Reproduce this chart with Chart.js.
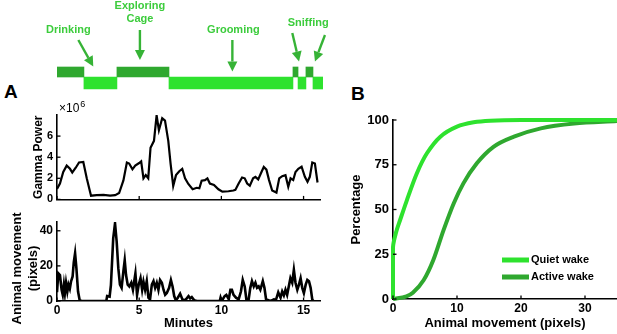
<!DOCTYPE html>
<html lang="en">
<head>
<meta charset="UTF-8">
<title>Behaviour, gamma power and animal movement</title>
<script src="https://cdn.jsdelivr.net/npm/chart.js@4.4.0/dist/chart.umd.min.js"></script>
<style>
  body { margin: 0; background: #fff; }
  #wrap { position: relative; width: 617px; height: 334px; overflow: hidden; font-family: 'Liberation Sans', Arial, sans-serif; }
  canvas { position: absolute; }
  .panel { position: absolute; font-weight: bold; font-size: 19px; line-height: 1; }
</style>
</head>
<body>
<div id="wrap">
  <div class="panel" style="left:4px;top:82px">A</div>
  <div class="panel" style="left:351px;top:84px">B</div>
  <canvas id="etho" width="340" height="100" style="left:0;top:0"></canvas>
  <canvas id="gamma" width="340" height="115" style="left:0;top:95px"></canvas>
  <canvas id="move" width="340" height="124" style="left:0;top:210px"></canvas>
  <canvas id="cdf" width="277" height="254" style="left:340px;top:80px"></canvas>
</div>
<script>
// ---- data ----
const minuteTicks = [0, 5, 10, 15];
const gammaTicks = [0, 2, 4, 6];
const moveTicks = [0, 20, 40];
const cdfXTicks = [0, 10, 20, 30];
const cdfYTicks = [0, 25, 50, 75, 100];

// ethogram, [start, end] in minutes
const darkBouts = [[0, 1.64], [3.65, 6.82], [14.37, 14.68], [15.16, 15.59]];
const lightBouts = [[1.64, 3.65], [6.82, 14.37], [14.68, 15.16], [15.59, 16.2]];
const behaviours = ['Drinking', ['Exploring', 'Cage'], 'Grooming', 'Sniffing'];
const behaviourAt = [[0.69, 7.0], [5.05, 8.75], [10.74, 7.0], [15.3, 7.75]];
const arrowFrom = [[1.3, 6.0], [5.05, 7.0], [10.68, 6.0], [14.33, 6.7], [16.32, 6.5]];
const arrowTo = [[2.21, 3.35], [5.05, 4.0], [10.68, 2.85], [14.74, 3.85], [15.71, 3.85]];

// gamma power (x10^6)
const gammaTime = [0, 0.18, 0.38, 0.59, 0.79, 0.93, 1.14, 1.34, 1.6, 1.81, 2.07, 2.42, 2.83, 3.23, 3.54, 3.78,
  4.04, 4.25, 4.39, 4.59, 4.76, 5.0, 5.12, 5.26, 5.4, 5.55, 5.69, 5.9, 6.06, 6.2, 6.4, 6.57, 6.77, 6.91,
  7.07, 7.24, 7.44, 7.62, 7.79, 7.99, 8.25, 8.5, 8.66, 8.8, 9.0, 9.15, 9.3, 9.55, 9.82, 10.06, 10.43,
  10.73, 10.85, 11.05, 11.26, 11.42, 11.57, 11.73, 11.93, 12.07, 12.24, 12.44, 12.58, 12.74, 12.9, 13.09,
  13.35, 13.52, 13.7, 13.9, 14.07, 14.21, 14.37, 14.51, 14.68, 14.88, 15.08, 15.24, 15.38, 15.53, 15.69, 15.85];
const gammaPower = [1.0, 1.5, 2.6, 3.2, 2.9, 2.55, 3.0, 3.5, 3.55, 2.0, 0.35, 0.4, 0.43, 0.35, 0.4, 0.6,
  1.8, 3.5, 3.4, 2.85, 3.2, 3.45, 3.6, 2.0, 2.3, 2.0, 4.9, 5.55, 7.97, 6.55, 7.7, 7.47, 5.55, 3.4,
  1.27, 2.3, 2.67, 2.9, 2.0, 1.46, 0.96, 1.1, 1.05, 1.77, 1.83, 2.0, 1.5, 1.37, 0.96, 0.74, 0.77,
  0.84, 0.9, 1.5, 2.07, 2.0, 1.5, 1.3, 2.0, 2.14, 1.9, 2.6, 3.07, 2.82, 1.83, 0.84,
  0.65, 2.0, 2.2, 2.3, 1.2, 2.0, 1.83, 2.6, 2.9, 3.1, 2.14, 1.67, 2.14, 3.5, 3.4, 1.6];

// animal movement (pixels)
const moveTime = [0, 0.08, 0.18, 0.28, 0.35, 0.42, 0.48, 0.55, 0.63, 0.7, 0.78, 0.85, 0.95, 1.02, 1.1, 1.18,
  1.28, 1.38, 1.5, 3.0, 3.05, 3.2, 3.28, 3.42, 3.53, 3.63, 3.73, 3.83, 3.93, 4.04, 4.12, 4.2, 4.3, 4.4,
  4.52, 4.62, 4.77, 4.87, 4.97, 5.08, 5.18, 5.26, 5.36, 5.46, 5.56, 5.66, 5.77, 5.87, 5.97, 6.07, 6.17,
  6.27, 6.38, 6.48, 6.58, 6.68, 6.82, 6.93, 7.03, 7.13, 7.23, 7.35, 7.49, 7.63, 7.8, 8.0, 8.1, 8.2, 8.35,
  8.5, 9.9, 9.95, 10.02, 10.2, 10.3, 10.45, 10.55, 10.64, 10.74, 10.89, 11.05, 11.19, 11.3, 11.42, 11.52,
  11.66, 11.76, 11.86, 11.97, 12.07, 12.17, 12.27, 12.37, 12.52, 12.62, 12.72, 12.87, 13.0, 13.2, 13.3,
  13.46, 13.6, 13.7, 13.8, 13.9, 14.0, 14.1, 14.2, 14.31, 14.41, 14.51, 14.62, 14.72, 14.82, 14.92, 15.02,
  15.13, 15.23, 15.33, 15.43, 15.53, 15.6];
const movePixels = [5, 15.8, 14.8, 6.4, 3.5, 9.3, 4.5, 10.4, 5.4, 9.3, 7, 11, 14, 22, 27.2, 18.7,
  5.4, 0.4, 0, 0, 2.8, 2.5, 9, 35.7, 44.2, 33.9, 18.7, 9.3, 7.5, 17, 23.2, 14.8, 9.3, 8.3,
  10.4, 6.4, 15.7, 3.5, 9.3, 13, 6.4, 11, 6.4, 11.3, 1.9, 0.9, 9.3, 11.3, 7.5, 10.4, 6.4,
  12, 10.4, 6.4, 3.5, 4.5, 7.5, 12, 8.3, 2.8, 0.4, 1.9, 4.2, 0.9, 0.4, 2.8, 1.5, 2.2, 0.4,
  0, 0, 1.9, 0, 2.8, 3.5, 1, 6.4, 6.4, 3.5, 1.9, 0.9, 5.4, 12, 8.3, 0.9,
  0.9, 7.5, 11.3, 8.3, 10.4, 7.5, 8.3, 6.4, 11.3, 7.5, 0.9, 0.4, 0, 0.9, 0,
  5, 1.9, 5.4, 3.2, 6.4, 3.5, 8.3, 13, 10.4, 17.8, 10.4, 6.4, 9.3, 13, 7.5, 4.5,
  9.3, 12, 11.3, 7.5, 0.9, 0];
const moveYTitle = ['Animal movement', '(pixels)'];

// cumulative distributions (panel B)
const quietX = [0, 0, 0.5, 1.1, 2.15, 3.7, 5.3, 7.4, 10, 12.6, 15.2, 20, 35];
const quietPct = [0, 29, 37.5, 44, 55, 70, 81.4, 90.7, 96.3, 98.7, 99.6, 100, 100];
const activeX = [0, 2.1, 3.1, 4.8, 6.3, 7.9, 9.5, 11, 13.1, 15.7, 18.9, 23.1, 28.3, 35];
const activePct = [0, 1.5, 3.5, 10.6, 21.8, 38.5, 53.5, 64.6, 75.8, 85, 90.7, 95.3, 98, 99.4];

// ---- styling ----
const lightGreen = '#2ee22e';
const darkGreen = '#2fa82f';
const textGreen = '#3ccc3c';
const arrowGreen = '#36b336';
const FONT = "'Liberation Sans', Arial, sans-serif";

Chart.defaults.font.family = FONT;
Chart.defaults.color = '#000';
Chart.defaults.animation = false;

const pts = (xs, ys) => xs.map((x, i) => ({ x: x, y: ys[i] }));
const fixTicks = list => scale => { scale.ticks = list.map(v => ({ value: v })); };

// MATLAB-style ticks pointing into the plot
const inwardTicks = {
  id: 'inwardTicks',
  afterDraw(chart) {
    const { ctx, chartArea } = chart;
    ctx.save();
    ctx.strokeStyle = '#000';
    ctx.lineWidth = 1.3;
    ['x', 'y'].forEach(id => {
      const s = chart.scales[id];
      s.ticks.forEach(t => {
        const p = s.getPixelForValue(t.value);
        ctx.beginPath();
        if (s.isHorizontal()) {
          ctx.moveTo(p, chartArea.bottom);
          ctx.lineTo(p, chartArea.bottom - 3.5);
        } else {
          ctx.moveTo(chartArea.left, p);
          ctx.lineTo(chartArea.left + 3.5, p);
        }
        ctx.stroke();
      });
    });
    ctx.restore();
  }
};

function axisX(min, max, ticks, showLabels, title, fontSize) {
  return {
    type: 'linear', min: min, max: max,
    afterBuildTicks: fixTicks(ticks),
    grid: { display: false, drawTicks: false },
    border: { display: true, color: '#000', width: 1.6 },
    ticks: { display: showLabels, padding: 2, font: { size: fontSize, weight: 'bold' } },
    title: { display: !!title, text: title, padding: { top: 0, bottom: 3 }, font: { size: 13, weight: 'bold' } }
  };
}
function axisY(min, max, ticks, title, titlePad, fontSize, titleSize) {
  return {
    type: 'linear', min: min, max: max,
    afterBuildTicks: fixTicks(ticks),
    grid: { display: false, drawTicks: false },
    border: { display: true, color: '#000', width: 1.6 },
    ticks: { padding: 4, font: { size: fontSize, weight: 'bold' } },
    title: { display: !!title, text: title, padding: { top: titlePad, bottom: 0 }, font: { size: titleSize, weight: 'bold' } }
  };
}

// ---- ethogram ----
const ethoNotes = {
  id: 'ethoNotes',
  afterDatasetsDraw(chart) {
    const { ctx, scales: { x, y } } = chart;
    ctx.save();
    ctx.font = 'bold 11px ' + FONT;
    ctx.fillStyle = textGreen;
    ctx.textAlign = 'center';
    ctx.textBaseline = 'middle';
    behaviours.forEach((name, i) => {
      const lines = Array.isArray(name) ? name : [name];
      const cx = x.getPixelForValue(behaviourAt[i][0]);
      const cy = y.getPixelForValue(behaviourAt[i][1]);
      lines.forEach((ln, k) => ctx.fillText(ln, cx, cy + (k - (lines.length - 1) / 2) * 13));
    });
    ctx.strokeStyle = arrowGreen;
    ctx.fillStyle = arrowGreen;
    ctx.lineWidth = 2.4;
    arrowFrom.forEach((a, i) => {
      const x0 = x.getPixelForValue(a[0]), y0 = y.getPixelForValue(a[1]);
      const x1 = x.getPixelForValue(arrowTo[i][0]), y1 = y.getPixelForValue(arrowTo[i][1]);
      const ang = Math.atan2(y1 - y0, x1 - x0);
      const head = 10, half = 5;
      const bx = x1 - head * Math.cos(ang), by = y1 - head * Math.sin(ang);
      ctx.beginPath();
      ctx.moveTo(x0, y0);
      ctx.lineTo(bx, by);
      ctx.stroke();
      ctx.beginPath();
      ctx.moveTo(x1, y1);
      ctx.lineTo(bx + half * Math.sin(ang), by - half * Math.cos(ang));
      ctx.lineTo(bx - half * Math.sin(ang), by + half * Math.cos(ang));
      ctx.closePath();
      ctx.fill();
    });
    ctx.restore();
  }
};

new Chart(document.getElementById('etho'), {
  type: 'bar',
  data: {
    datasets: [
      { data: darkBouts.map(b => ({ x: b, y: 2.8 })), backgroundColor: darkGreen, barThickness: 10, grouped: false, borderWidth: 0 },
      { data: lightBouts.map(b => ({ x: b, y: 1.7 })), backgroundColor: lightGreen, barThickness: 12, grouped: false, borderWidth: 0 }
    ]
  },
  options: {
    responsive: false,
    indexAxis: 'y',
    layout: { padding: { left: 57, right: 17, top: 0, bottom: 0 } },
    plugins: { legend: { display: false }, tooltip: { enabled: false } },
    scales: {
      x: { type: 'linear', min: 0, max: 16.2, display: false },
      y: { type: 'linear', min: 0, max: 10, offset: false, display: false }
    }
  },
  plugins: [ethoNotes]
});

// ---- gamma power ----
const expLabel = {
  id: 'expLabel',
  afterDraw(chart) {
    const { ctx, chartArea } = chart;
    ctx.save();
    ctx.fillStyle = '#000';
    ctx.textBaseline = 'alphabetic';
    ctx.font = '12px ' + FONT;
    ctx.fillText('\u00d710', chartArea.left + 2, chartArea.top - 3);
    const w = ctx.measureText('\u00d710').width;
    ctx.font = '9px ' + FONT;
    ctx.fillText('6', chartArea.left + 3 + w, chartArea.top - 8);
    ctx.restore();
  }
};

new Chart(document.getElementById('gamma'), {
  type: 'line',
  data: { datasets: [{ data: pts(gammaTime, gammaPower), borderColor: '#000', borderWidth: 2.2, pointRadius: 0, tension: 0 }] },
  options: {
    responsive: false,
    layout: { padding: { left: 0, right: 20, top: 20, bottom: 0 } },
    plugins: { legend: { display: false }, tooltip: { enabled: false } },
    scales: {
      x: Object.assign(axisX(0, 16, minuteTicks, false, '', 11), { afterFit: s => { s.height = 9; } }),
      y: Object.assign(axisY(0, 8, gammaTicks, 'Gamma Power', 31, 11, 12), { afterFit: s => { s.width = 57; } })
    }
  },
  plugins: [inwardTicks, expLabel]
});

// ---- animal movement ----
// two-line y title sits a little below the axis centre, as in the figure
const moveTitle = {
  id: 'moveTitle',
  afterDraw(chart) {
    const { ctx, chartArea } = chart;
    ctx.save();
    ctx.font = 'bold 13px ' + FONT;
    ctx.fillStyle = '#000';
    ctx.textAlign = 'center';
    ctx.textBaseline = 'middle';
    ctx.translate(17, (chartArea.top + chartArea.bottom) / 2 + 7);
    ctx.rotate(-Math.PI / 2);
    moveYTitle.forEach((t, i) => ctx.fillText(t, 0, i * 16));
    ctx.restore();
  }
};

new Chart(document.getElementById('move'), {
  type: 'line',
  data: { datasets: [{ data: pts(moveTime, movePixels), borderColor: '#000', borderWidth: 2.6, pointRadius: 0, tension: 0 }] },
  options: {
    responsive: false,
    layout: { padding: { left: 0, right: 20, top: 12, bottom: 0 } },
    plugins: { legend: { display: false }, tooltip: { enabled: false } },
    scales: {
      x: Object.assign(axisX(0, 16, minuteTicks, true, 'Minutes', 12), { afterFit: s => { s.height = 33; } }),
      y: Object.assign(axisY(0, 45, moveTicks, '', 0, 12, 13), { afterFit: s => { s.width = 57; } })
    }
  },
  plugins: [inwardTicks, moveTitle]
});

// ---- panel B ----
const cdfLegend = {
  id: 'cdfLegend',
  afterDraw(chart) {
    const { ctx, chartArea } = chart;
    ctx.save();
    ctx.font = 'bold 11px ' + FONT;
    ctx.textBaseline = 'middle';
    chart.data.datasets.forEach((ds, i) => {
      const y = chartArea.top + 140 + i * 17;
      const x = chartArea.left + 109;
      ctx.strokeStyle = ds.borderColor;
      ctx.lineWidth = 5;
      ctx.beginPath();
      ctx.moveTo(x, y);
      ctx.lineTo(x + 27, y);
      ctx.stroke();
      ctx.fillStyle = '#000';
      ctx.fillText(ds.label, x + 29, y);
    });
    ctx.restore();
  }
};

new Chart(document.getElementById('cdf'), {
  type: 'line',
  data: {
    datasets: [
      { label: 'Quiet wake', data: pts(quietX, quietPct), borderColor: lightGreen, borderWidth: 4, pointRadius: 0, tension: 0.3, clip: false },
      { label: 'Active wake', data: pts(activeX, activePct), borderColor: darkGreen, borderWidth: 4, pointRadius: 0, cubicInterpolationMode: 'monotone', clip: false }
    ]
  },
  options: {
    responsive: false,
    layout: { padding: { left: 0, right: 0, top: 40, bottom: 0 } },
    plugins: { legend: { display: false }, tooltip: { enabled: false } },
    scales: {
      x: Object.assign(axisX(0, 35, cdfXTicks, true, 'Animal movement (pixels)', 12), { afterFit: s => { s.height = 35; } }),
      y: Object.assign(axisY(0, 100, cdfYTicks, 'Percentage', 9, 13, 13), { afterFit: s => { s.width = 53; } })
    }
  },
  plugins: [inwardTicks, cdfLegend]
});
</script>
</body>
</html>
